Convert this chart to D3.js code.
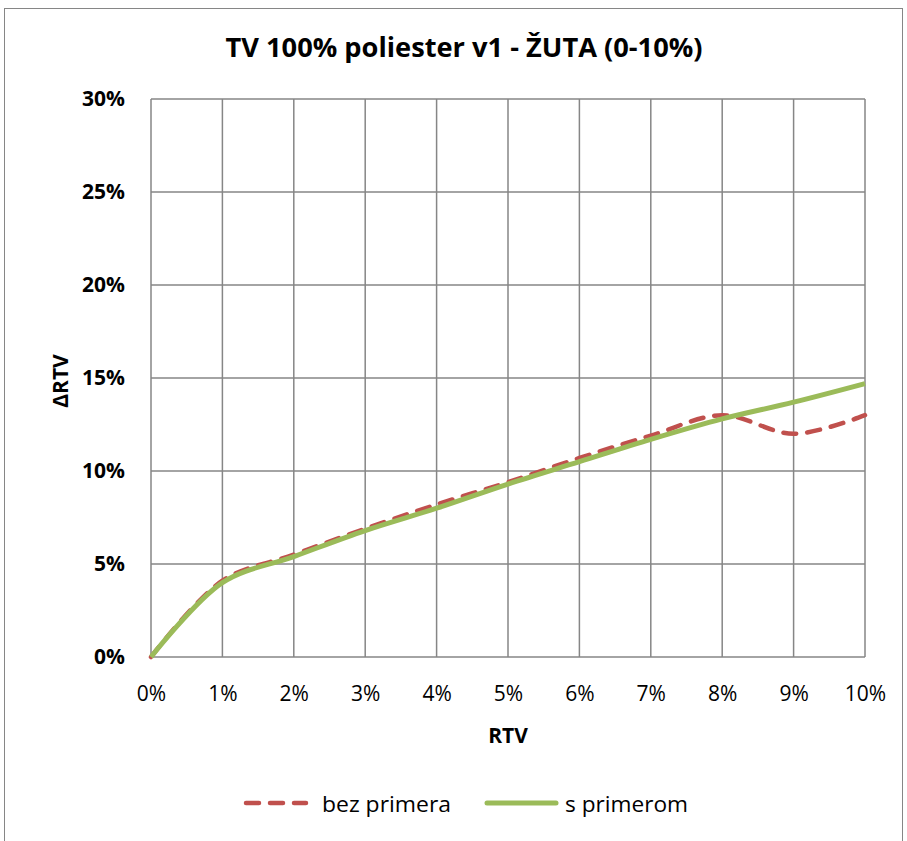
<!DOCTYPE html>
<html>
<head>
<meta charset="utf-8">
<script src="https://cdn.jsdelivr.net/npm/d3@7"></script>
<style>
  body { margin: 0; background: #fff; }
  text { font-family: "Open Sans", "DejaVu Sans", sans-serif; fill: #000; }
</style>
</head>
<body>
<svg id="chart" width="907" height="841"></svg>
<script>
const rtv = [0, 1, 2, 3, 4, 5, 6, 7, 8, 9, 10];
const bezPrimera = [0, 4.1, 5.5, 6.9, 8.2, 9.4, 10.7, 11.9, 13.0, 12.0, 13.0];
const sPrimerom = [0, 4.0, 5.4, 6.8, 8.0, 9.3, 10.5, 11.7, 12.8, 13.7, 14.7];
const xTicks = [0, 1, 2, 3, 4, 5, 6, 7, 8, 9, 10];
const yTicks = [0, 5, 10, 15, 20, 25, 30];

const svg = d3.select("#chart");
const margin = { top: 99, right: 42, bottom: 184, left: 151 };
const width = +svg.attr("width");
const height = +svg.attr("height");
const innerWidth = width - margin.left - margin.right;
const innerHeight = height - margin.top - margin.bottom;

// outer chart border
svg.append("rect")
  .attr("x", 4.5).attr("y", 8.5)
  .attr("width", 898).attr("height", 840)
  .attr("fill", "none")
  .attr("stroke", "#868686")
  .attr("stroke-width", 1);

svg.append("text")
  .attr("x", 464).attr("y", 57)
  .attr("text-anchor", "middle")
  .attr("font-size", 26)
  .attr("font-weight", "bold")
  .attr("textLength", 477)
  .attr("lengthAdjust", "spacingAndGlyphs")
  .text("TV 100% poliester v1 - ŽUTA (0-10%)");

const g = svg.append("g")
  .attr("transform", `translate(${margin.left},${margin.top})`);

const x = d3.scaleLinear().domain([0, 10]).range([0, innerWidth]);
const y = d3.scaleLinear().domain([0, 30]).range([innerHeight, 0]);

// gridlines
g.append("g")
  .selectAll("line")
  .data(xTicks)
  .enter()
  .append("line")
  .attr("x1", (d) => x(d)).attr("x2", (d) => x(d))
  .attr("y1", 0).attr("y2", innerHeight)
  .attr("stroke", "#868686").attr("stroke-width", 1.5);

g.append("g")
  .selectAll("line")
  .data(yTicks)
  .enter()
  .append("line")
  .attr("x1", 0).attr("x2", innerWidth)
  .attr("y1", (d) => y(d)).attr("y2", (d) => y(d))
  .attr("stroke", "#868686").attr("stroke-width", 1.5);

// axes (labels only)
const xAxis = g.append("g")
  .attr("transform", `translate(0,${innerHeight})`)
  .call(d3.axisBottom(x).tickValues(xTicks).tickFormat((d) => d + "%").tickSize(0).tickPadding(29));
xAxis.select(".domain").remove();
xAxis.selectAll("text")
  .attr("font-size", 21)
  .attr("font-family", "Open Sans, sans-serif");

const yAxis = g.append("g")
  .call(d3.axisLeft(y).tickValues(yTicks).tickFormat((d) => d + "%").tickSize(0).tickPadding(26));
yAxis.select(".domain").remove();
yAxis.selectAll("text")
  .attr("font-size", 21)
  .attr("font-weight", "bold")
  .attr("font-family", "Open Sans, sans-serif");

g.append("text")
  .attr("x", innerWidth / 2)
  .attr("y", innerHeight + 86)
  .attr("text-anchor", "middle")
  .attr("font-size", 21)
  .attr("font-weight", "bold")
  .text("RTV");

g.append("text")
  .attr("transform", "rotate(-90)")
  .attr("x", -y(15) - 3)
  .attr("y", -83)
  .attr("text-anchor", "middle")
  .attr("font-size", 21)
  .attr("font-weight", "bold")
  .text("ΔRTV");

// series
const line = (vals) =>
  d3.line()
    .x((d, i) => x(rtv[i]))
    .y((d) => y(d))
    .curve(d3.curveCatmullRom.alpha(0.5))(vals);

g.append("path")
  .attr("d", line(bezPrimera))
  .attr("fill", "none")
  .attr("stroke", "#C0504D")
  .attr("stroke-width", 4.5)
  .attr("stroke-linecap", "round")
  .attr("stroke-dasharray", "13,11");

g.append("path")
  .attr("d", line(sPrimerom))
  .attr("fill", "none")
  .attr("stroke", "#9BBB59")
  .attr("stroke-width", 5)
  .attr("stroke-linecap", "butt");

// legend
const legend = svg.append("g").attr("transform", "translate(0,803)");
legend.append("line")
  .attr("x1", 246).attr("x2", 306)
  .attr("stroke", "#C0504D").attr("stroke-width", 4.5)
  .attr("stroke-linecap", "round").attr("stroke-dasharray", "13,11");
legend.append("text")
  .attr("x", 322).attr("y", 9)
  .attr("font-size", 21)
  .attr("textLength", 129)
  .attr("lengthAdjust", "spacingAndGlyphs")
  .text("bez primera");
legend.append("line")
  .attr("x1", 487).attr("x2", 556)
  .attr("stroke", "#9BBB59").attr("stroke-width", 5)
  .attr("stroke-linecap", "round");
legend.append("text")
  .attr("x", 565).attr("y", 9)
  .attr("font-size", 21)
  .attr("textLength", 123)
  .attr("lengthAdjust", "spacingAndGlyphs")
  .text("s primerom");
</script>
</body>
</html>
